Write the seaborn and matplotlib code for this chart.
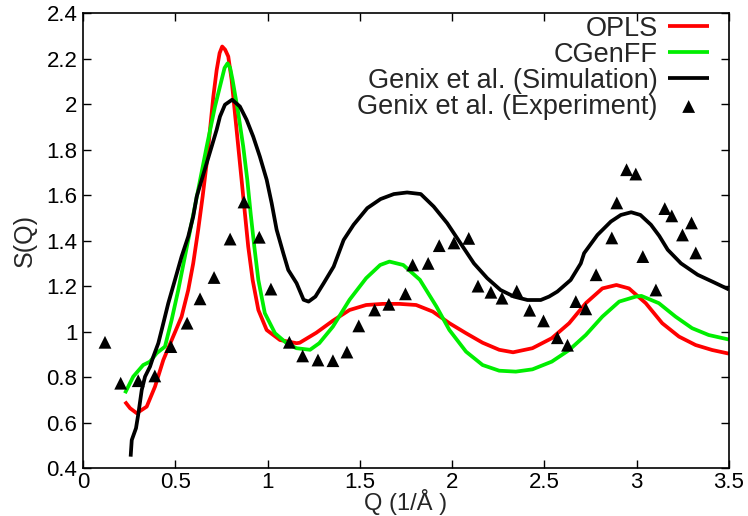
import matplotlib
matplotlib.use("Agg")
import matplotlib.pyplot as plt
import seaborn as sns
import pandas as pd
from matplotlib.ticker import FuncFormatter

# ---- data ----
opls_q = [0.227, 0.255, 0.291, 0.345, 0.39, 0.435, 0.471, 0.534, 0.57, 0.597, 0.624,
          0.648, 0.67, 0.688, 0.706, 0.724, 0.74, 0.754, 0.77, 0.787, 0.805, 0.823,
          0.841, 0.859, 0.877, 0.895, 0.919, 0.95, 0.995, 1.067, 1.157, 1.174, 1.264,
          1.354, 1.444, 1.534, 1.624, 1.714, 1.805, 1.895, 1.985, 2.075, 2.165, 2.255,
          2.33, 2.435, 2.54, 2.634, 2.724, 2.814, 2.89, 2.958, 3.049, 3.138, 3.229,
          3.319, 3.409, 3.5]
opls_s = [0.692, 0.663, 0.641, 0.67, 0.758, 0.875, 0.945, 1.066, 1.183, 1.30, 1.448,
          1.594, 1.741, 1.888, 2.034, 2.15, 2.225, 2.254, 2.24, 2.21, 2.108, 1.961,
          1.814, 1.668, 1.521, 1.374, 1.227, 1.095, 1.007, 0.963, 0.949, 0.951, 0.995,
          1.048, 1.095, 1.117, 1.122, 1.122, 1.117, 1.088, 1.037, 0.993, 0.951, 0.92,
          0.909, 0.927, 0.971, 1.037, 1.125, 1.19, 1.205, 1.19, 1.125, 1.037, 0.978,
          0.941, 0.919, 0.903]

cgen_q = [0.227, 0.272, 0.326, 0.363, 0.399, 0.444, 0.48, 0.516, 0.552, 0.588, 0.624,
          0.67, 0.715, 0.751, 0.767, 0.783, 0.797, 0.81, 0.841, 0.868, 0.89, 0.908,
          0.928, 0.95, 0.985, 1.04, 1.103, 1.156, 1.23, 1.28, 1.354, 1.444, 1.534,
          1.61, 1.66, 1.735, 1.825, 1.915, 1.985, 2.075, 2.165, 2.255, 2.345, 2.435,
          2.54, 2.634, 2.724, 2.814, 2.905, 2.995, 3.025, 3.12, 3.21, 3.30, 3.39, 3.5]
cgen_s = [0.729, 0.802, 0.853, 0.868, 0.905, 0.934, 1.051, 1.183, 1.33, 1.477, 1.624,
          1.814, 1.99, 2.108, 2.16, 2.18, 2.16, 2.108, 1.961, 1.814, 1.668, 1.521,
          1.374, 1.227, 1.081, 0.993, 0.949, 0.927, 0.92, 0.949, 1.022, 1.14, 1.235,
          1.293, 1.308, 1.293, 1.228, 1.11, 1.007, 0.912, 0.853, 0.828, 0.824, 0.834,
          0.868, 0.919, 0.985, 1.066, 1.132, 1.154, 1.157, 1.125, 1.066, 1.015, 0.985,
          0.965]

sim_q = [0.258, 0.264, 0.287, 0.3, 0.318, 0.336, 0.363, 0.381, 0.408, 0.426, 0.462,
         0.498, 0.534, 0.57, 0.597, 0.616, 0.643, 0.67, 0.697, 0.724, 0.742, 0.769,
         0.808, 0.85, 0.886, 0.922, 0.958, 0.995, 1.022, 1.049, 1.085, 1.112, 1.157,
         1.195, 1.222, 1.259, 1.304, 1.358, 1.412, 1.466, 1.54, 1.612, 1.684, 1.756,
         1.83, 1.90, 1.973, 2.045, 2.118, 2.19, 2.262, 2.335, 2.408, 2.48, 2.525,
         2.57, 2.642, 2.697, 2.715, 2.787, 2.86, 2.914, 2.97, 3.02, 3.077, 3.122,
         3.168, 3.24, 3.33, 3.42, 3.5]
sim_s = [0.45, 0.523, 0.575, 0.64, 0.743, 0.802, 0.846, 0.89, 0.949, 1.007, 1.125,
         1.227, 1.33, 1.418, 1.506, 1.594, 1.668, 1.741, 1.814, 1.888, 1.946, 1.998,
         2.02, 1.99, 1.932, 1.858, 1.77, 1.668, 1.565, 1.448, 1.345, 1.271, 1.213,
         1.14, 1.132, 1.154, 1.213, 1.286, 1.403, 1.47, 1.543, 1.583, 1.605, 1.612,
         1.605, 1.55, 1.477, 1.389, 1.30, 1.235, 1.183, 1.154, 1.139, 1.139, 1.154,
         1.176, 1.227, 1.30, 1.345, 1.425, 1.484, 1.513, 1.525, 1.513, 1.47, 1.421,
         1.36, 1.30, 1.25, 1.216, 1.185]

exp_q = [0.119, 0.204, 0.299, 0.389, 0.476, 0.564, 0.634, 0.71, 0.797, 0.872, 0.955,
         1.018, 1.118, 1.19, 1.273, 1.354, 1.43, 1.494, 1.58, 1.657, 1.747, 1.786,
         1.87, 1.93, 2.01, 2.09, 2.14, 2.21, 2.27, 2.35, 2.42, 2.495, 2.57, 2.625,
         2.67, 2.724, 2.78, 2.865, 2.892, 2.945, 2.995, 3.033, 3.104, 3.152, 3.19,
         3.248, 3.297, 3.32]
exp_s = [0.953, 0.773, 0.784, 0.805, 0.934, 1.037, 1.144, 1.238, 1.407, 1.57, 1.415,
         1.187, 0.953, 0.893, 0.875, 0.872, 0.91, 1.025, 1.095, 1.12, 1.166, 1.293,
         1.30, 1.378, 1.39, 1.41, 1.20, 1.173, 1.147, 1.178, 1.094, 1.047, 0.973, 0.94,
         1.132, 1.10, 1.25, 1.412, 1.566, 1.712, 1.693, 1.33, 1.183, 1.541, 1.509,
         1.425, 1.478, 1.346]

labels = ["OPLS", "CGenFF", "Genix et al. (Simulation)", "Genix et al. (Experiment)"]
colors = ["#ff0000", "#00ee00", "#000000"]
x_ticks = [0, 0.5, 1, 1.5, 2, 2.5, 3, 3.5]
y_ticks = [0.4, 0.6, 0.8, 1.0, 1.2, 1.4, 1.6, 1.8, 2.0, 2.2, 2.4]

# ---- plotting ----
sns.set_theme(style="ticks")
plt.rcParams["font.family"] = ["Liberation Sans", "DejaVu Sans"]

fig = plt.figure(figsize=(7.48, 5.16), dpi=100)
ax = fig.add_axes([0.111, 0.093, 0.8636, 0.8812])

lines = [(opls_q, opls_s), (cgen_q, cgen_s), (sim_q, sim_s)]
for (q, s), lab, col in zip(lines, labels[:3], colors):
    df = pd.DataFrame({"Q": q, "S": s})
    sns.lineplot(data=df, x="Q", y="S", ax=ax, color=col, linewidth=2.7,
                 label=lab, sort=False, estimator=None)
for l in ax.lines:
    l.set_solid_joinstyle("round")
    l.set_solid_capstyle("butt")

dfe = pd.DataFrame({"Q": exp_q, "S": exp_s})
sns.scatterplot(data=dfe, x="Q", y="S", ax=ax, marker="^", s=85, color="black",
                edgecolor="none", label=labels[3], zorder=5)

ax.set_xlim(0, 3.5)
ax.set_ylim(0.4, 2.4)
ax.set_xticks(x_ticks)
ax.set_yticks(y_ticks)
fmt = FuncFormatter(lambda v, p: "%g" % round(v, 3))
ax.xaxis.set_major_formatter(fmt)
ax.yaxis.set_major_formatter(fmt)
ax.tick_params(direction="in", length=6, width=1, top=True, right=True,
               labelsize=16, colors="black", pad=4)
ax.tick_params(axis="x", pad=3)
for sp in ax.spines.values():
    sp.set_visible(True)
    sp.set_linewidth(1.2)
    sp.set_color("black")

ax.set_xlabel("Q (1/Å )", fontsize=17, labelpad=-3)
ax.set_ylabel("S(Q)", fontsize=18, labelpad=7)

leg = ax.legend(loc="upper right", bbox_to_anchor=(0.969, 0.995), frameon=False,
                markerfirst=False, fontsize=19.5, handlelength=1.5,
                handletextpad=0.4, labelspacing=0.0, borderaxespad=0.0,
                borderpad=0.0)

fig.savefig("out.png", dpi=100, facecolor="white")
